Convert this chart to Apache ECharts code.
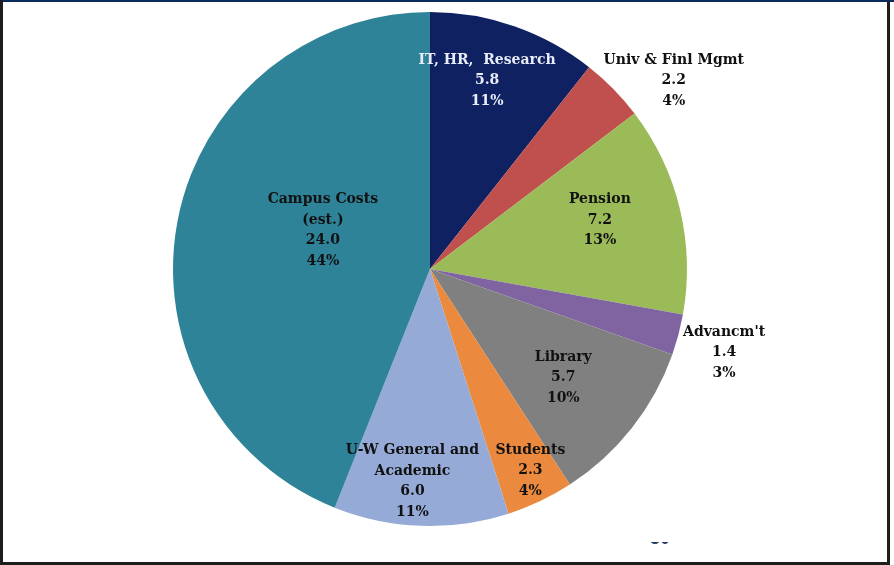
<!DOCTYPE html>
<html><head><meta charset="utf-8">
<script src="https://cdn.jsdelivr.net/npm/echarts@6/dist/echarts.min.js"></script>
<style>html,body{margin:0;padding:0;background:#fff}#c{width:894px;height:565px}</style>
</head><body><div id="c"></div>
<script>
const categories = ['IT, HR,  Research', 'Univ & Finl Mgmt', 'Pension', "Advancm't", 'Library', 'Students', 'U-W General and\nAcademic', 'Campus Costs\n(est.)'];
const values = [5.8, 2.2, 7.2, 1.4, 5.7, 2.3, 6.0, 24.0];
const colors = ['#0f2160', '#c0504d', '#9bbb59', '#8064a2', '#808080', '#eb8a3e', '#95aad6', '#2f8399'];
const labelColors = ['#e8ecf8', '#111', '#111', '#111', '#111', '#111', '#111', '#111'];
// label offsets from the default inside position (px)
const labelDx = [14, 150, 42, 167, 30, 44, -13, 22];
const labelDy = [-64, -96, -18, 50, 27, 83, 81, -14];

const chart = echarts.init(document.getElementById('c'), null, {renderer: 'canvas'});
chart.setOption({
  animation: false,
  backgroundColor: '#fff',
  graphic: [
    {type: 'rect', shape: {x: 0, y: 0, width: 894, height: 2}, style: {fill: '#0b2a5c'}, z: 10},
    {type: 'rect', shape: {x: 0, y: 0, width: 3, height: 565}, style: {fill: '#1e1e1e'}, z: 10},
    {type: 'rect', shape: {x: 0, y: 562, width: 890, height: 3}, style: {fill: '#1e1e1e'}, z: 10},
    {type: 'rect', shape: {x: 887, y: 2, width: 3, height: 563}, style: {fill: '#1e1e1e'}, z: 10},
    {type: 'text', left: 650, top: 530, style: {text: '30', fill: '#1f3864', font: 'bold 18px "Liberation Sans"'}, z: 5},
    {type: 'rect', shape: {x: 640, y: 520, width: 40, height: 22}, style: {fill: '#fff'}, z: 6}
  ],
  series: [{
    type: 'pie',
    center: [430, 269],
    radius: [0, 257],
    startAngle: 90,
    clockwise: true,
    avoidLabelOverlap: false,
    itemStyle: {borderWidth: 0},
    label: {
      show: true,
      position: 'inside',
      fontFamily: '"DejaVu Serif", serif',
      fontWeight: 'bold',
      fontSize: 14,
      lineHeight: 20.5,
      align: 'center',
      formatter: p => p.name + '\n' + p.value.toFixed(1) + '\n' + Math.round(p.percent) + '%'
    },
    labelLine: {show: false},
    labelLayout: p => ({dx: labelDx[p.dataIndex], dy: labelDy[p.dataIndex]}),
    data: categories.map((n, i) => ({
      name: n, value: values[i],
      itemStyle: {color: colors[i]},
      label: {color: labelColors[i]}
    }))
  }]
});
</script></body></html>
